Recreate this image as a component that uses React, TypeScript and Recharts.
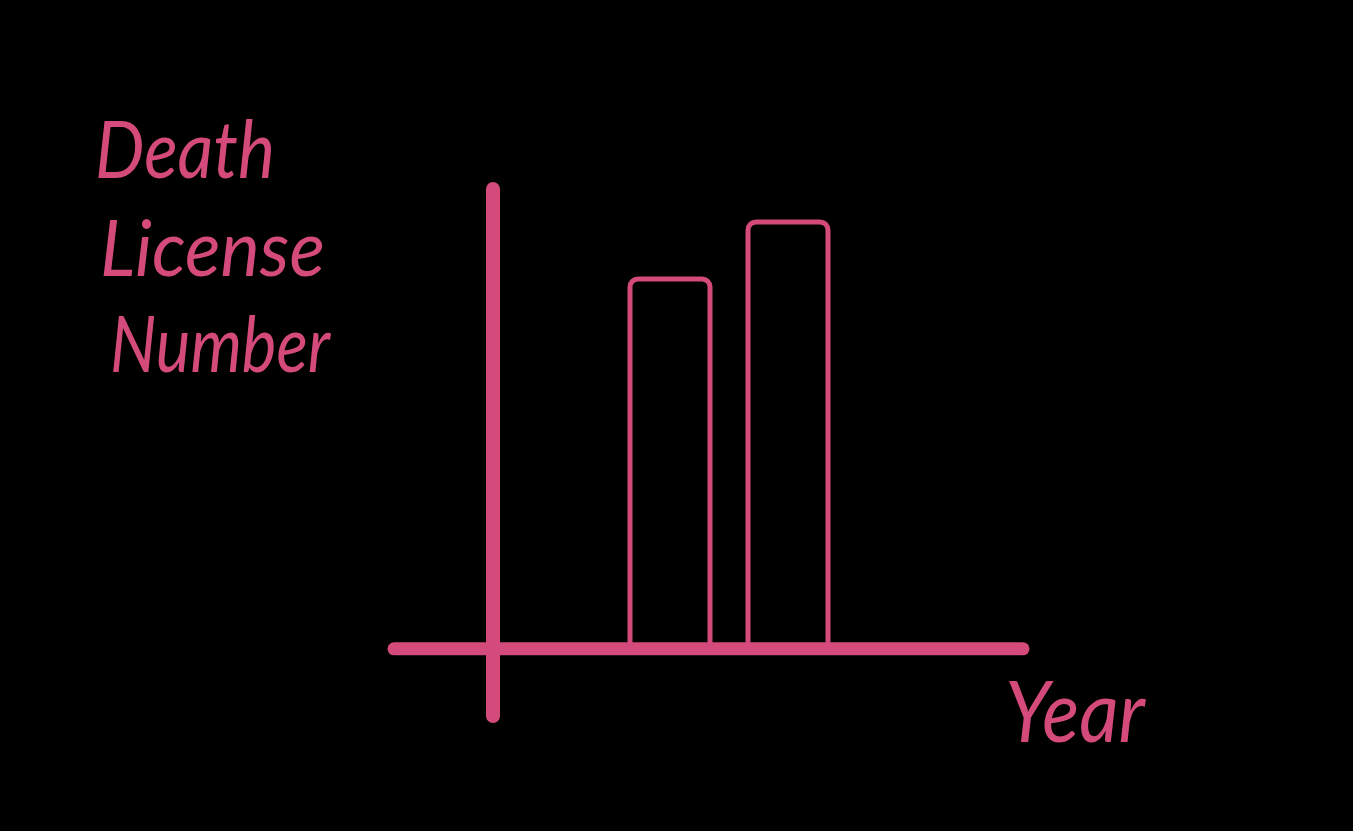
import { BarChart, Bar, XAxis, YAxis, ReferenceLine } from "recharts"

const PINK = "#D44A7A"

const years = ["2019", "2020"]
const deathLicenses = [65, 75]

const data = years.map((year, i) => ({ year, licenses: deathLicenses[i] }))

const axisLabelLines = ["Death", "License", "Number"]
const xLabel = "Year"

// horizontal axis, drawn a bit past the y axis like the sketch
const BaseLine = (p: any) => (
  <line
    x1={p.x1 - 99}
    y1={p.y1}
    x2={p.x2}
    y2={p.y2}
    stroke={PINK}
    strokeWidth={13}
    strokeLinecap="round"
  />
)

export default function App() {
  return (
    <div style={{ position: "fixed", inset: 0, background: "#000" }}>
      <BarChart
        width={1353}
        height={831}
        data={data}
        margin={{ top: 189, right: 330, bottom: 115, left: 0 }}
        style={{ position: "absolute", left: 0, top: 0 }}
      >
        <XAxis dataKey="year" hide padding={{ left: 118, right: 176 }} />
        <YAxis
          width={493}
          domain={[-11.8, 80.8]}
          tick={false}
          tickLine={false}
          axisLine={{ stroke: PINK, strokeWidth: 14, strokeLinecap: "round" }}
        />
        <Bar
          dataKey="licenses"
          barSize={80}
          fill="none"
          stroke={PINK}
          strokeWidth={5}
          radius={[8, 8, 0, 0]}
          isAnimationActive={false}
        />
        <ReferenceLine y={0} shape={BaseLine} />
      </BarChart>
      <svg
        width={1353}
        height={831}
        style={{ position: "absolute", left: 0, top: 0, pointerEvents: "none" }}
      >
        <g fill={PINK} fontFamily="Lato" fontStyle="italic">
          <text x={95} y={178} fontSize={80} textLength={180} lengthAdjust="spacingAndGlyphs">
            {axisLabelLines[0]}
          </text>
          <text x={100} y={276} fontSize={78} textLength={225} lengthAdjust="spacingAndGlyphs">
            {axisLabelLines[1]}
          </text>
          <text x={110} y={372} fontSize={78} textLength={220} lengthAdjust="spacingAndGlyphs">
            {axisLabelLines[2]}
          </text>
          <text x={1005} y={742} fontSize={86} textLength={140} lengthAdjust="spacingAndGlyphs">
            {xLabel}
          </text>
        </g>
      </svg>
    </div>
  )
}
